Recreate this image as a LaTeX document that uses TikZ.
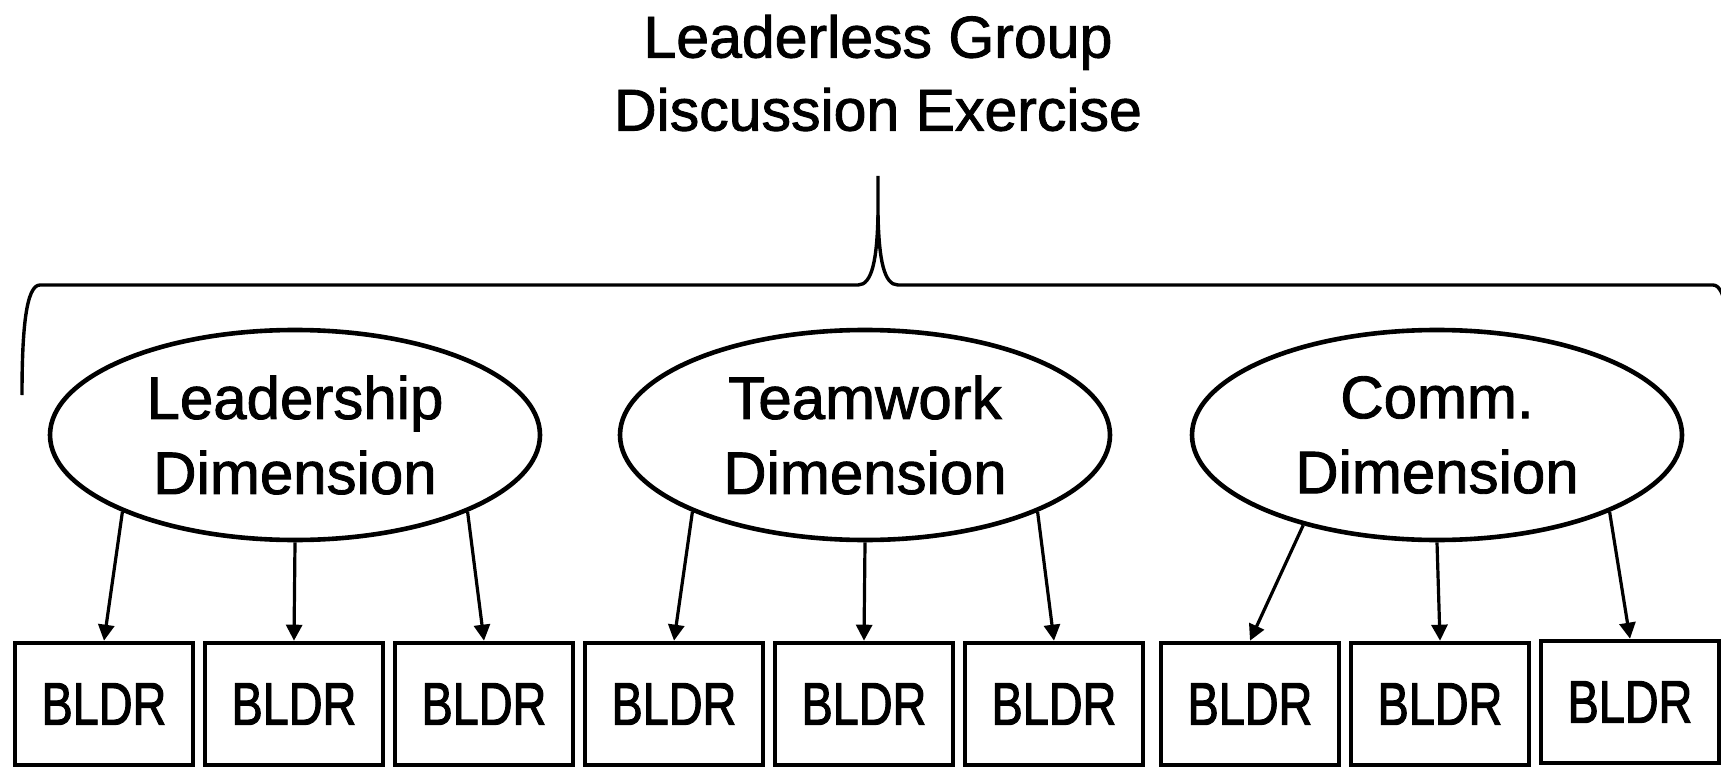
\documentclass[tikz,border=0pt]{standalone}
\usepackage{fontspec}
\usepackage{graphicx}
\setmainfont[RawFeature={embolden=1.5}]{Liberation Sans}
\newfontfamily\boxfont[RawFeature={embolden=2.0}]{Liberation Sans}
\usetikzlibrary{shapes.geometric,arrows.meta}
\begin{document}
\begin{tikzpicture}[x=1pt,y=-1pt,
  heading/.style={align=center,inner sep=0pt,font=\fontsize{59}{73}\selectfont},
  dimension/.style={draw,line width=4.6pt,ellipse,minimum width=490pt,minimum height=210pt,
    inner sep=0pt,align=center,font=\fontsize{60}{75}\selectfont},
  bldr/.style={draw,line width=4.6pt,minimum width=178pt,minimum height=122pt,inner sep=0pt,
    font=\fontsize{60}{72}\selectfont\boxfont},
  link/.style={line width=3.2pt,-{Triangle[length=16pt,width=16pt]}},
  bracket/.style={line width=3.4pt,line join=round}]
\useasboundingbox (0,0) rectangle (1721,767);
\clip (0,0) rectangle (1721,767);

% exercise title
\node[heading] (title) at (878,73) {Leaderless Group\\Discussion Exercise};

% curly bracket grouping the three dimensions
\draw[bracket] (22,395) .. controls (22,330) and (26,285) .. (40,285)
  -- (858,285) .. controls (872,285) and (877,260) .. (878,215) -- (878,176);
\draw[bracket] (878,215) .. controls (879,260) and (884,285) .. (898,285)
  -- (1713,285) .. controls (1727,285) and (1731,330) .. (1731,395);

% dimensions
\node[dimension] (lead) at (295,435) {Leadership\\Dimension};
\node[dimension] (team) at (865,435) {Teamwork\\Dimension};
\node[dimension] (comm) at (1437,435) {Comm.\\Dimension};

% behaviour ratings
\node[bldr] (b1) at (104,704) {\scalebox{0.78}[1]{BLDR}};
\node[bldr] (b2) at (294,704) {\scalebox{0.78}[1]{BLDR}};
\node[bldr] (b3) at (484,704) {\scalebox{0.78}[1]{BLDR}};
\node[bldr] (b4) at (674,704) {\scalebox{0.78}[1]{BLDR}};
\node[bldr] (b5) at (864,704) {\scalebox{0.78}[1]{BLDR}};
\node[bldr] (b6) at (1054,704) {\scalebox{0.78}[1]{BLDR}};
\node[bldr] (b7) at (1250,704) {\scalebox{0.78}[1]{BLDR}};
\node[bldr] (b8) at (1440,704) {\scalebox{0.78}[1]{BLDR}};
\node[bldr] (b9) at (1630,702) {\scalebox{0.78}[1]{BLDR}};

% loadings
\draw[link] (lead.204) -- (b1.north);
\draw[link] (lead.south) -- (b2.north);
\draw[link] (lead.336) -- (b3.north);
\draw[link] (team.204) -- (b4.north);
\draw[link] (team.south) -- (b5.north);
\draw[link] (team.336) -- (b6.north);
\draw[link] (comm.214) -- (b7.north);
\draw[link] (comm.south) -- (b8.north);
\draw[link] (comm.336) -- (b9.north);
\end{tikzpicture}
\end{document}
